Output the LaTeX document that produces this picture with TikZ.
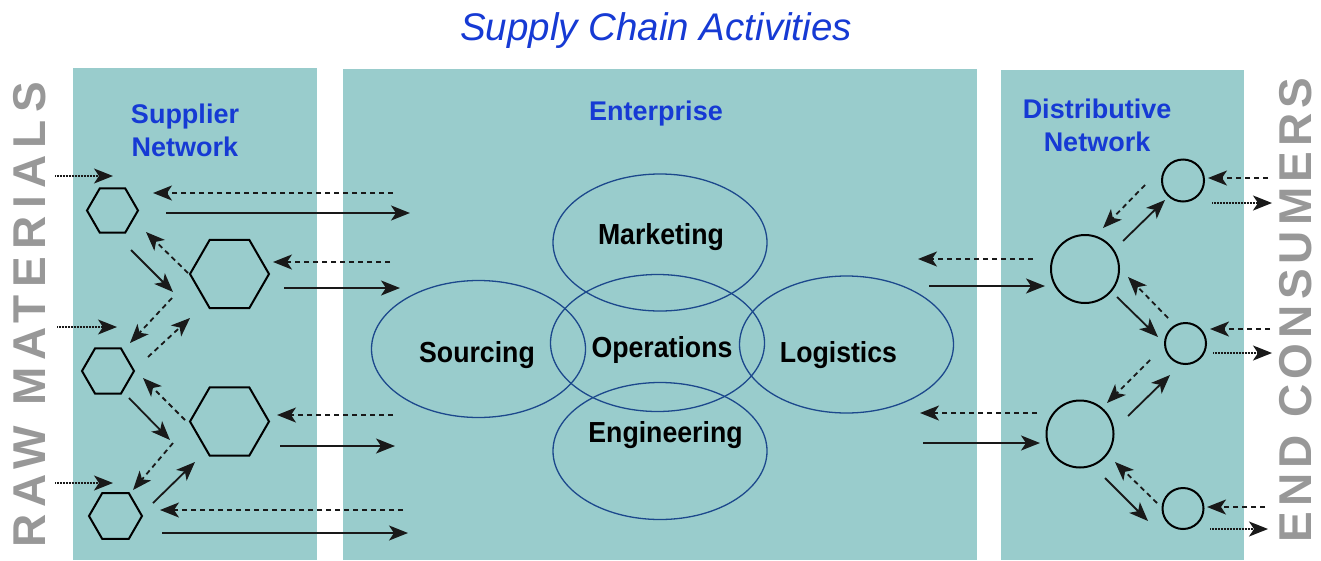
\documentclass[tikz,border=0pt]{standalone}
\usepackage{fontspec}
\setmainfont{Liberation Sans}
\newfontfamily\spacedfont[LetterSpace=16]{Liberation Sans}
\newfontfamily\spacedfontb[LetterSpace=11]{Liberation Sans}
\usetikzlibrary{arrows.meta,shapes.geometric}
\definecolor{panel}{RGB}{153,204,204}
\definecolor{hblue}{RGB}{22,58,212}
\definecolor{eblue}{RGB}{28,72,140}
\definecolor{vgray}{RGB}{152,152,152}
\newcommand{\cond}[1]{\scalebox{0.92}[1]{#1}}
\begin{document}
\begin{tikzpicture}[x=1pt,y=-1pt,
  panelbox/.style={fill=panel,draw=none},
  hexa/.style={draw=black,line width=2pt,regular polygon,regular polygon sides=6,inner sep=0pt},
  ring/.style={draw=black,line width=2pt,circle,inner sep=0pt},
  area/.style={draw=eblue,line width=1.3pt,ellipse,inner sep=0pt,minimum width=214pt,minimum height=137pt},
  flow/.style={line width=1.8pt,draw=black!90,-{Stealth[length=19pt,width=15pt,inset=5pt]}},
  back/.style={flow,dash pattern=on 5pt off 4pt},
  feed/.style={flow,line width=1.4pt,dash pattern=on 0.8pt off 0.7pt},
  head/.style={text=hblue,font=\fontsize{27}{33}\selectfont\bfseries,align=center,inner sep=0pt},
  func/.style={font=\fontsize{29}{32}\selectfont\bfseries,inner sep=0pt,anchor=base},
  side/.style={text=vgray,rotate=90,inner sep=0pt}]
\useasboundingbox (0,0) rectangle (1321,560);
\fill[white] (0,0) rectangle (1321,560);
% panels
\fill[panelbox] (73,68) rectangle (317,560);
\fill[panelbox] (343,69) rectangle (977,560);
\fill[panelbox] (1001,70) rectangle (1244,560);
% title
\node[anchor=base,text=hblue,font=\fontsize{38.5}{40}\selectfont\itshape] (title) at (656,40) {Supply Chain Activities};
% side labels
\node[side,font=\fontsize{46}{50}\selectfont\spacedfont\bfseries] (raw) at (30,315) {RAW MATERIALS};
\node[side,font=\fontsize{46}{50}\selectfont\spacedfontb\bfseries] (end) at (1296,310) {END CONSUMERS};
% headers
\node[head] (sup) at (185,130) {Supplier\\Network};
\node[head,anchor=base] (ent) at (656,120) {Enterprise};
\node[head] (dis) at (1097,125) {Distributive\\Network};
% ellipses
\node[area] (mk) at (660,242.5) {};
\node[area] (op) at (657.5,343) {};
\node[area] (so) at (478.5,349) {};
\node[area] (lo) at (846.5,344.5) {};
\node[area] (en) at (660,451) {};
\node[func] (mkt) at (661,244) {\cond{Marketing}};
\node[func] (opt) at (662,357) {\cond{Operations}};
\node[func] (sot) at (477,362) {\cond{Sourcing}};
\node[func] (lot) at (838.5,362) {\cond{Logistics}};
\node[func] (ent2) at (665.5,442) {\cond{Engineering}};
% hexagons
\node[hexa,minimum size=51pt] (h1) at (112.5,210.5) {};
\node[hexa,minimum size=79pt] (h2) at (229.5,274) {};
\node[hexa,minimum size=52pt] (h3) at (108,371) {};
\node[hexa,minimum size=79pt] (h4) at (229.5,421.5) {};
\node[hexa,minimum size=53pt] (h5) at (115.5,516) {};
% circles
\node[ring,minimum size=42pt] (c1) at (1183,180.5) {};
\node[ring,minimum size=68pt] (c2) at (1085,269) {};
\node[ring,minimum size=41pt] (c3) at (1185.5,343.5) {};
\node[ring,minimum size=67pt] (c4) at (1080,434) {};
\node[ring,minimum size=41pt] (c5) at (1183,508.5) {};
% coordinates, left
\coordinate (r1a) at (55,176);   \coordinate (r1b) at (113,176);
\coordinate (r2a) at (57,327);   \coordinate (r2b) at (117,327);
\coordinate (r3a) at (55,483);   \coordinate (r3b) at (113,483);
\coordinate (k1a) at (393,193);  \coordinate (k1b) at (153,193);
\coordinate (s1a) at (166,213);  \coordinate (s1b) at (410,213);
\coordinate (k2a) at (390,262);  \coordinate (k2b) at (273,262);
\coordinate (s2a) at (284,288);  \coordinate (s2b) at (400,288);
\coordinate (k4a) at (393,415);  \coordinate (k4b) at (277,415);
\coordinate (s4a) at (280,446);  \coordinate (s4b) at (395,446);
\coordinate (k5a) at (403,510);  \coordinate (k5b) at (160,510);
\coordinate (s5a) at (162,533);  \coordinate (s5b) at (408,533);
\coordinate (da) at (131,250);   \coordinate (db) at (173,292);
\coordinate (ea) at (188,273);   \coordinate (eb) at (146,232);
\coordinate (fa) at (172,298);   \coordinate (fb) at (130,343);
\coordinate (ga) at (148,357);   \coordinate (gb) at (190,318);
\coordinate (ha) at (129,398);   \coordinate (hb) at (170,440);
\coordinate (ia) at (185,420);   \coordinate (ib) at (143,378);
\coordinate (ja) at (173,443);   \coordinate (jb) at (133,490);
\coordinate (la) at (153,503);   \coordinate (lb) at (195,462);
% coordinates, right
\coordinate (q1a) at (1268,178); \coordinate (q1b) at (1208,178);
\coordinate (o1a) at (1212,203); \coordinate (o1b) at (1272,203);
\coordinate (q3a) at (1270,329); \coordinate (q3b) at (1210,329);
\coordinate (o3a) at (1213,353); \coordinate (o3b) at (1272,353);
\coordinate (q5a) at (1265,507); \coordinate (q5b) at (1207,507);
\coordinate (o5a) at (1210,529); \coordinate (o5b) at (1268,529);
\coordinate (q2a) at (1033,259); \coordinate (q2b) at (918,259);
\coordinate (t2a) at (929,286);  \coordinate (t2b) at (1045,286);
\coordinate (q4a) at (1037,413); \coordinate (q4b) at (920,413);
\coordinate (t4a) at (923,443);  \coordinate (t4b) at (1040,443);
\coordinate (ua) at (1123,241);  \coordinate (ub) at (1165,200);
\coordinate (va) at (1145,185);  \coordinate (vb) at (1103,228);
\coordinate (wa) at (1117,297);  \coordinate (wb) at (1158,337);
\coordinate (xa) at (1168,318);  \coordinate (xb) at (1128,277);
\coordinate (ya) at (1128,416);  \coordinate (yb) at (1170,375);
\coordinate (za) at (1150,360);  \coordinate (zb) at (1107,403);
\coordinate (ma) at (1105,478);  \coordinate (mb) at (1148,521);
\coordinate (na) at (1157,503);  \coordinate (nb) at (1115,462);
% arrows left
\draw[feed] (r1a) -- (r1b);
\draw[feed] (r2a) -- (r2b);
\draw[feed] (r3a) -- (r3b);
\draw[back] (k1a) -- (k1b);
\draw[flow] (s1a) -- (s1b);
\draw[back] (k2a) -- (k2b);
\draw[flow] (s2a) -- (s2b);
\draw[back] (k4a) -- (k4b);
\draw[flow] (s4a) -- (s4b);
\draw[back] (k5a) -- (k5b);
\draw[flow] (s5a) -- (s5b);
\draw[flow] (da) -- (db);
\draw[back] (ea) -- (eb);
\draw[back] (fa) -- (fb);
\draw[back] (ga) -- (gb);
\draw[flow] (ha) -- (hb);
\draw[back] (ia) -- (ib);
\draw[back] (ja) -- (jb);
\draw[flow] (la) -- (lb);
% arrows right
\draw[back] (q1a) -- (q1b);
\draw[feed] (o1a) -- (o1b);
\draw[back] (q3a) -- (q3b);
\draw[feed] (o3a) -- (o3b);
\draw[back] (q5a) -- (q5b);
\draw[feed] (o5a) -- (o5b);
\draw[back] (q2a) -- (q2b);
\draw[flow] (t2a) -- (t2b);
\draw[back] (q4a) -- (q4b);
\draw[flow] (t4a) -- (t4b);
\draw[flow] (ua) -- (ub);
\draw[back] (va) -- (vb);
\draw[flow] (wa) -- (wb);
\draw[back] (xa) -- (xb);
\draw[flow] (ya) -- (yb);
\draw[back] (za) -- (zb);
\draw[flow] (ma) -- (mb);
\draw[back] (na) -- (nb);
\end{tikzpicture}
\end{document}
